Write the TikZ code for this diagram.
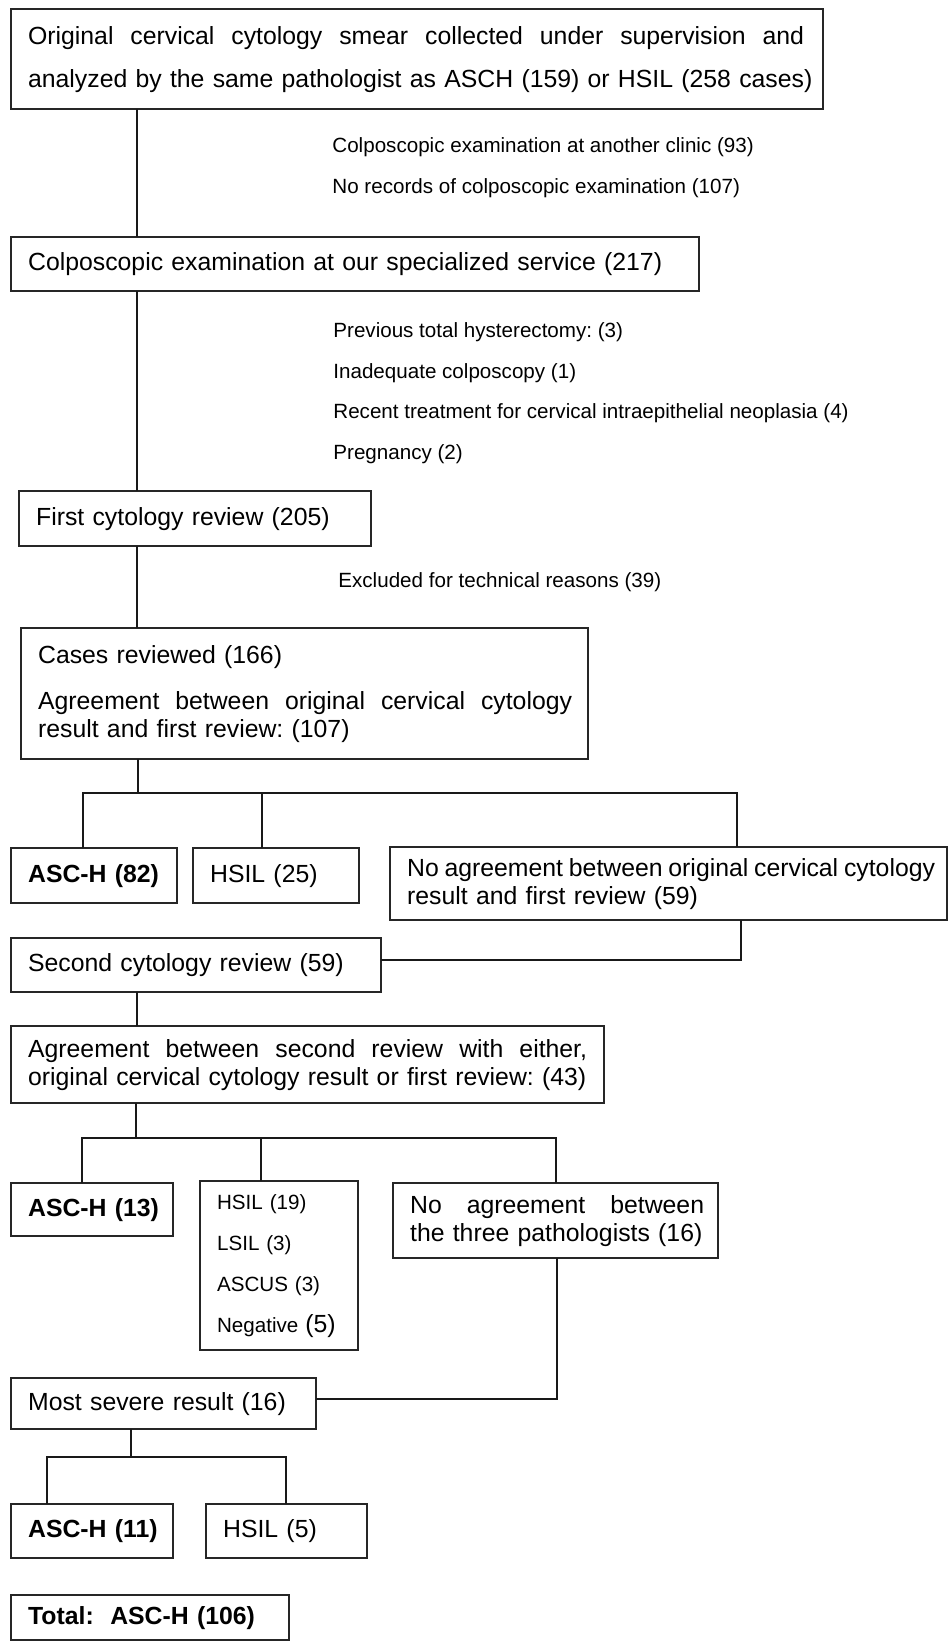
\documentclass[tikz,border=0pt]{standalone}
\usepackage{fontspec}
\setmainfont{Liberation Sans}
\newcommand{\FBig}{\fontsize{12.4pt}{14pt}\selectfont}
\newcommand{\FSmall}{\fontsize{10.3pt}{12pt}\selectfont}
\newcommand{\JL}[2]{\makebox[#1][s]{\spaceskip=0pt\xspaceskip=0pt\relax #2}}
\tikzset{
  bx/.style={draw=black!85, line width=1.1pt, anchor=north west, inner xsep=8.5pt,
    inner ysep=0pt, align=left, font=\FBig, fill=white},
  note/.style={anchor=west, inner sep=0pt, font=\FSmall},
  conn/.style={draw=black!90, line width=1.3pt, line cap=rect},
}
\begin{document}
\frenchspacing
\begin{tikzpicture}[x=0.5pt, y=-0.5pt]
\useasboundingbox (0,0) rectangle (949,1641);
\fill[white] (0,0) rectangle (949,1641);

% boxes
\node[bx, minimum width=406pt, minimum height=50pt, text width=389pt] (b1) at (10,8)
 {\JL{388pt}{Original cervical cytology smear collected under supervision and}\\[7.5pt]
  \mbox{analyzed by the same pathologist as ASCH (159) or HSIL (258 cases)}};
\node[bx, minimum width=344pt, minimum height=27pt, text width=327pt] (b2) at (10,236)
 {\mbox{Colposcopic examination at our specialized service (217)}};
\node[bx, minimum width=176pt, minimum height=27.5pt, text width=159pt] (b3) at (18,490)
 {\mbox{First cytology review (205)}};
\node[bx, minimum width=283.5pt, minimum height=65.5pt, text width=266.5pt] (b4) at (20,627)
 {\mbox{Cases reviewed (166)}\\[9pt]
  \JL{267pt}{Agreement between original cervical cytology}\\
  \mbox{result and first review: (107)}};
\node[bx, minimum width=83pt, minimum height=27.5pt, text width=66pt] (b5) at (10,847)
 {\mbox{\bfseries ASC-H (82)}};
\node[bx, minimum width=83pt, minimum height=27.5pt, text width=66pt] (b6) at (192,847)
 {\mbox{HSIL (25)}};
\node[bx, minimum width=278.5pt, minimum height=36.5pt, text width=261.5pt] (b7) at (389,846)
 {\JL{264pt}{No agreement between original cervical cytology}\\
  \mbox{result and first review (59)}};
\node[bx, minimum width=185pt, minimum height=27pt, text width=168pt] (b8) at (10,937)
 {\mbox{Second cytology review (59)}};
\node[bx, minimum width=296.5pt, minimum height=38.5pt, text width=279.5pt] (b9) at (10,1025)
 {\JL{279.5pt}{Agreement between second review with either,}\\
  \mbox{original cervical cytology result or first review: (43)}};
\node[bx, minimum width=81pt, minimum height=26.5pt, text width=64pt] (b10) at (10,1182)
 {\mbox{\bfseries ASC-H (13)}};
\node[bx, minimum width=79pt, minimum height=84.5pt, text width=62pt, font=\FSmall] (b11) at (199,1180)
 {\mbox{HSIL (19)}\\[8.5pt] \mbox{LSIL (3)}\\[8.5pt] \mbox{ASCUS (3)}\\[8.5pt] \mbox{Negative {\FBig(5)}}};
\node[bx, minimum width=162.5pt, minimum height=37.5pt, text width=145.5pt] (b12) at (392,1182)
 {\JL{147pt}{No agreement between}\\
  \mbox{the three pathologists (16)}};
\node[bx, minimum width=152.5pt, minimum height=25.5pt, text width=135.5pt] (b13) at (10,1377)
 {\mbox{Most severe result (16)}};
\node[bx, minimum width=81pt, minimum height=27pt, text width=64pt] (b14) at (10,1503)
 {\mbox{\bfseries ASC-H (11)}};
\node[bx, minimum width=80.5pt, minimum height=27pt, text width=63.5pt] (b15) at (205,1503)
 {\mbox{HSIL (5)}};
\node[bx, minimum width=139pt, minimum height=22.5pt, text width=122pt] (b16) at (10,1594)
 {\mbox{\bfseries Total:~~ASC-H (106)}};

% side notes
\node[note] (n1) at (332,147) {Colposcopic examination at another clinic (93)};
\node[note] (n2) at (332,188) {No records of colposcopic examination (107)};
\node[note] (n3) at (333,332) {Previous total hysterectomy: (3)};
\node[note] (n4) at (333,373) {Inadequate colposcopy (1)};
\node[note] (n5) at (333,413) {Recent treatment for cervical intraepithelial neoplasia (4)};
\node[note] (n6) at (333,454) {Pregnancy (2)};
\node[note] (n7) at (338,582) {Excluded for technical reasons (39)};

% trunk coordinates
\coordinate (c1) at (137,0);
\coordinate (j1) at (138,793);
\coordinate (j1a) at (83,793);
\coordinate (j1b) at (262,793);
\coordinate (j1c) at (737,793);
\coordinate (k1) at (741,960);
\coordinate (j2) at (136,1138);
\coordinate (j2a) at (82,1138);
\coordinate (j2b) at (261,1138);
\coordinate (j2c) at (556,1138);
\coordinate (k2) at (557,1399);
\coordinate (j3) at (131,1457);
\coordinate (j3a) at (47,1457);
\coordinate (j3b) at (286,1457);

\draw[conn] (b1.south -| c1) -- (b2.north -| c1);
\draw[conn] (b2.south -| c1) -- (b3.north -| c1);
\draw[conn] (b3.south -| c1) -- (b4.north -| c1);
\draw[conn] (b4.south -| j1) -- (j1);
\draw[conn] (b5.north -| j1a) -- (j1a) -- (j1c) -- (b7.north -| j1c);
\draw[conn] (j1b) -- (b6.north -| j1b);
\draw[conn] (b7.south -| k1) -- (k1) -- (b8.east |- k1);
\draw[conn] (b8.south -| c1) -- (b9.north -| c1);
\draw[conn] (b9.south -| j2) -- (j2);
\draw[conn] (b10.north -| j2a) -- (j2a) -- (j2c) -- (b12.north -| j2c);
\draw[conn] (j2b) -- (b11.north -| j2b);
\draw[conn] (b12.south -| k2) -- (k2) -- (b13.east |- k2);
\draw[conn] (b13.south -| j3) -- (j3);
\draw[conn] (b14.north -| j3a) -- (j3a) -- (j3b) -- (b15.north -| j3b);
\end{tikzpicture}
\end{document}
